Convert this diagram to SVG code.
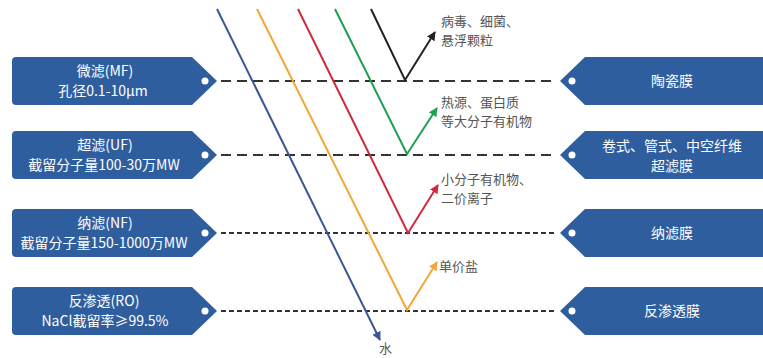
<svg xmlns="http://www.w3.org/2000/svg" width="763" height="358" viewBox="0 0 763 358">
<defs>
<style>
.tag{fill:#2f5e9e}
.hole{fill:#fff}
.tt{font-family:"Noto Sans CJK SC","Noto Sans",sans-serif;fill:#fff;font-size:14px;text-anchor:middle}
.lb{font-family:"Noto Sans CJK SC","Noto Sans",sans-serif;fill:#555;font-size:13px}
.dl{stroke:#333;stroke-width:2.2;fill:none;stroke-dasharray:10 6}
.ds{stroke:#333;stroke-width:2.2;fill:none;stroke-dasharray:5 3}
.ln{fill:none;stroke-width:2}
</style>
<marker id="aK" viewBox="0 0 10 10" refX="9" refY="5" markerWidth="9" markerHeight="9" markerUnits="userSpaceOnUse" orient="auto"><path d="M0,0L10,5L0,10z" fill="#222"/></marker>
<marker id="aG" viewBox="0 0 10 10" refX="9" refY="5" markerWidth="9" markerHeight="9" markerUnits="userSpaceOnUse" orient="auto"><path d="M0,0L10,5L0,10z" fill="#1f9e55"/></marker>
<marker id="aR" viewBox="0 0 10 10" refX="9" refY="5" markerWidth="9" markerHeight="9" markerUnits="userSpaceOnUse" orient="auto"><path d="M0,0L10,5L0,10z" fill="#cf2a3d"/></marker>
<marker id="aO" viewBox="0 0 10 10" refX="9" refY="5" markerWidth="9" markerHeight="9" markerUnits="userSpaceOnUse" orient="auto"><path d="M0,0L10,5L0,10z" fill="#f4a637"/></marker>
<marker id="aB" viewBox="0 0 10 10" refX="9" refY="5" markerWidth="9" markerHeight="9" markerUnits="userSpaceOnUse" orient="auto"><path d="M0,0L10,5L0,10z" fill="#3b5797"/></marker>
</defs>
<rect width="763" height="358" fill="#fff"/>

<g id="connectors">
<line class="dl" x1="221" y1="81" x2="557" y2="81"/>
<line class="dl" x1="221" y1="155" x2="557" y2="155"/>
<line class="ds" x1="221" y1="233" x2="557" y2="233"/>
<line class="ds" x1="221" y1="311" x2="557" y2="311"/>
<polyline class="ln" stroke="#3b5797" points="217,9 380,340" marker-end="url(#aB)"/>
<polyline class="ln" stroke="#f4a637" points="257,9 407,310 437,262" marker-end="url(#aO)"/>
<polyline class="ln" stroke="#cf2a3d" points="298,9 408,233 438,185" marker-end="url(#aR)"/>
<polyline class="ln" stroke="#1f9e55" points="335,9 407,154 437,108" marker-end="url(#aG)"/>
<polyline class="ln" stroke="#222" points="371,9 405,80 435,32" marker-end="url(#aK)"/>
</g>

<g id="mf">
<path class="tag" d="M16,57H192L217,81L192,105H16Q12,105 12,101V61Q12,57 16,57Z"/>
<circle class="hole" cx="205" cy="81" r="3.5"/>
<text class="tt" x="105" y="76">微滤(MF)</text>
<text class="tt" x="103" y="96">孔径0.1-10μm</text>
</g>
<g id="uf">
<path class="tag" d="M16,131H192L217,155L192,179H16Q12,179 12,175V135Q12,131 16,131Z"/>
<circle class="hole" cx="205" cy="155" r="3.5"/>
<text class="tt" x="105" y="150">超滤(UF)</text>
<text class="tt" x="104" y="170">截留分子量100-30万MW</text>
</g>
<g id="nf">
<path class="tag" d="M16,209H192L217,233L192,257H16Q12,257 12,253V213Q12,209 16,209Z"/>
<circle class="hole" cx="205" cy="233" r="3.5"/>
<text class="tt" x="105" y="228">纳滤(NF)</text>
<text class="tt" x="104" y="248">截留分子量150-1000万MW</text>
</g>
<g id="ro">
<path class="tag" d="M16,287H192L217,311L192,335H16Q12,335 12,331V291Q12,287 16,287Z"/>
<circle class="hole" cx="205" cy="311" r="3.5"/>
<text class="tt" x="104" y="306">反渗透(RO)</text>
<text class="tt" x="105" y="326">NaCl截留率≥99.5%</text>
</g>

<g id="ceramic">
<path class="tag" d="M763,57H585L560,81L585,105H763Z"/>
<circle class="hole" cx="572" cy="81" r="3.5"/>
<text class="tt" x="672" y="86">陶瓷膜</text>
</g>
<g id="uf-membrane">
<path class="tag" d="M763,131H585L560,155L585,179H763Z"/>
<circle class="hole" cx="572" cy="155" r="3.5"/>
<text class="tt" x="672" y="151">卷式、管式、中空纤维</text>
<text class="tt" x="672" y="171">超滤膜</text>
</g>
<g id="nf-membrane">
<path class="tag" d="M763,209H585L560,233L585,257H763Z"/>
<circle class="hole" cx="572" cy="233" r="3.5"/>
<text class="tt" x="672" y="238">纳滤膜</text>
</g>
<g id="ro-membrane">
<path class="tag" d="M763,287H585L560,311L585,335H763Z"/>
<circle class="hole" cx="572" cy="311" r="3.5"/>
<text class="tt" x="672" y="316">反渗透膜</text>
</g>

<g id="labels">
<text class="lb" x="441" y="26">病毒、细菌、</text>
<text class="lb" x="441" y="45">悬浮颗粒</text>
<text class="lb" x="441" y="107">热源、蛋白质</text>
<text class="lb" x="441" y="126">等大分子有机物</text>
<text class="lb" x="441" y="184">小分子有机物、</text>
<text class="lb" x="441" y="203">二价离子</text>
<text class="lb" x="439" y="271">单价盐</text>
<text class="lb" x="379" y="353">水</text>
</g>
</svg>
